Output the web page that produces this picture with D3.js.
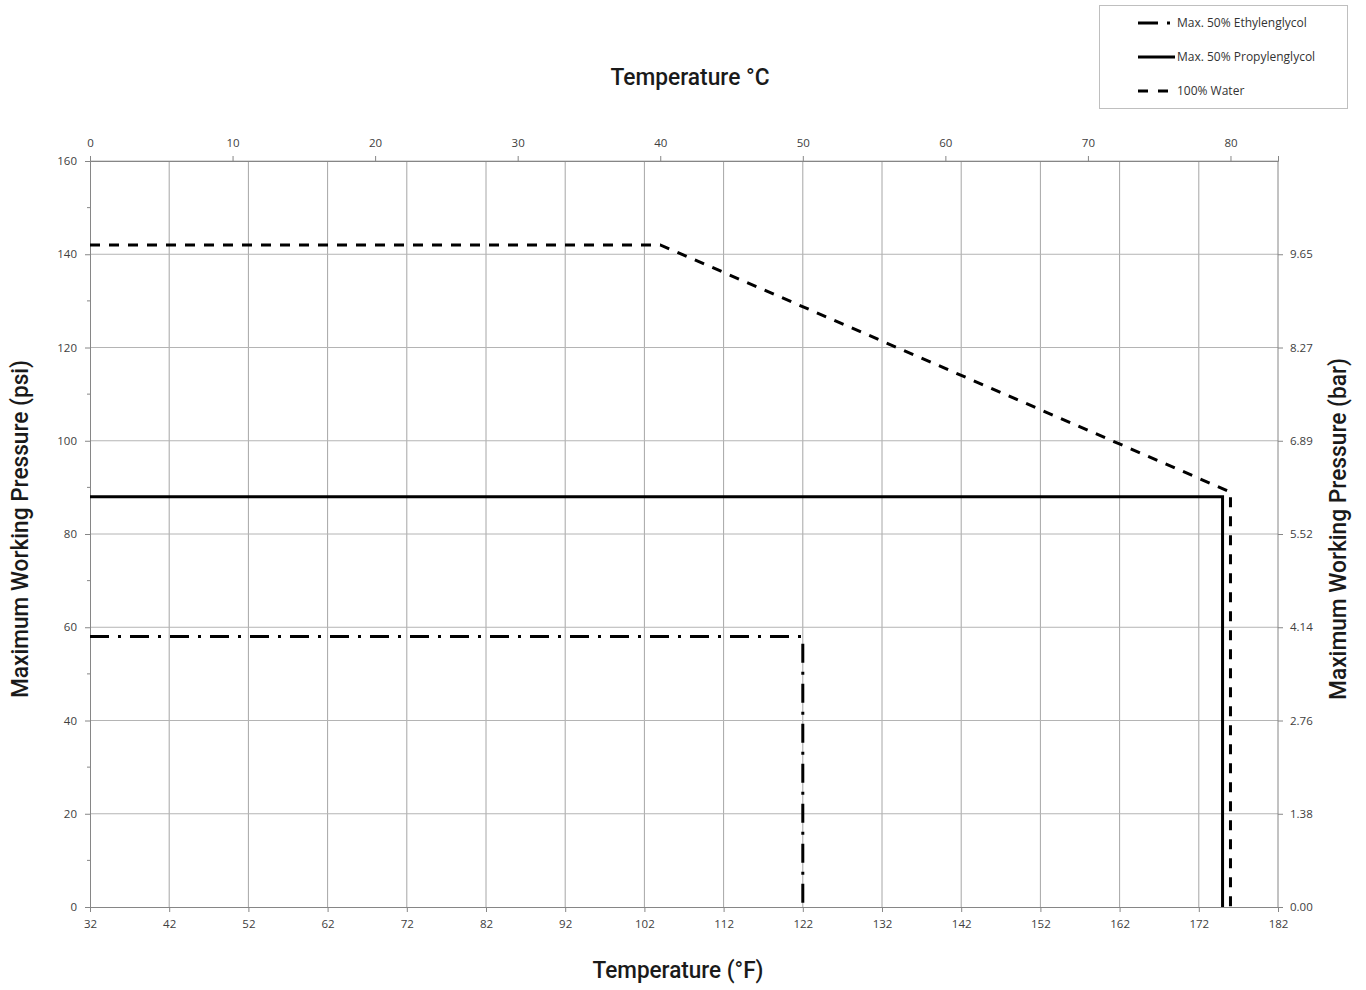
<!DOCTYPE html>
<html>
<head>
<meta charset="utf-8">
<script src="https://cdn.jsdelivr.net/npm/d3@7"></script>
<style>
  body { margin: 0; background: #fff; }
  svg { display: block; }
  .tick text { font-family: "Open Sans", sans-serif; font-size: 11.5px; fill: #404040; }
  .title { font-family: Roboto, sans-serif; font-size: 24px; font-weight: 500; fill: #1a1a1a; }
  .legend text { font-family: "Open Sans", sans-serif; font-size: 12px; fill: #333; }
</style>
</head>
<body>
<svg id="chart" width="1366" height="990"></svg>
<script>
// temperatures in °F, pressures in psi
const waterF = [32, 104, 176, 176];
const waterPsi = [142, 142, 89, 0];
const propF = [32, 175, 175];
const propPsi = [88, 88, 0];
const ethF = [32, 122, 122];
const ethPsi = [58, 58, 0];

const fTicks = [32, 42, 52, 62, 72, 82, 92, 102, 112, 122, 132, 142, 152, 162, 172, 182];
const cTicks = [0, 10, 20, 30, 40, 50, 60, 70, 80];
const psiTicks = [0, 20, 40, 60, 80, 100, 120, 140, 160];
const barTicks = [0, 20, 40, 60, 80, 100, 120, 140];
const barLabels = ["0.00", "1.38", "2.76", "4.14", "5.52", "6.89", "8.27", "9.65"];

const legendNames = ["Max. 50% Ethylenglycol", "Max. 50% Propylenglycol", "100% Water"];

const svg = d3.select('#chart');
const pLeft = 90, pRight = 1278, pTop = 161, pBottom = 907;

const x = d3.scaleLinear().domain([32, 182]).range([pLeft, pRight]);
const xC = d3.scaleLinear().domain([0, (182 - 32) * 5 / 9]).range([pLeft, pRight]);
const y = d3.scaleLinear().domain([0, 160]).range([pBottom, pTop]);

// gridlines
svg.append('g')
    .selectAll('line').data(fTicks.slice(1, -1)).enter().append('line')
    .attr('x1', d => x(d)).attr('x2', d => x(d))
    .attr('y1', pTop).attr('y2', pBottom)
    .attr('stroke', '#a6a6a6').attr('stroke-width', 1);
svg.append('g')
    .selectAll('line').data(psiTicks.slice(1)).enter().append('line')
    .attr('x1', pLeft).attr('x2', pRight)
    .attr('y1', d => y(d)).attr('y2', d => y(d))
    .attr('stroke', '#b4b4b4').attr('stroke-width', 1);

const styleAxis = (g) => {
    g.select('.domain').attr('stroke', '#868686');
    g.selectAll('.tick line').attr('stroke', '#868686');
};

// bottom axis °F
svg.append('g')
    .attr('transform', `translate(0,${pBottom})`)
    .call(d3.axisBottom(x).tickValues(fTicks).tickSizeOuter(0).tickSize(5).tickPadding(8))
    .call(styleAxis);

// top axis °C
svg.append('g')
    .attr('transform', `translate(0,${pTop})`)
    .call(d3.axisTop(xC).tickValues(cTicks).tickSizeOuter(0).tickSize(5).tickPadding(9))
    .call(styleAxis);

// left minor ticks
svg.append('g')
    .selectAll('line').data(d3.range(10, 160, 20)).enter().append('line')
    .attr('x1', pLeft - 3).attr('x2', pLeft)
    .attr('y1', d => y(d)).attr('y2', d => y(d))
    .attr('stroke', '#868686');

// left axis psi
svg.append('g')
    .attr('transform', `translate(${pLeft},0)`)
    .call(d3.axisLeft(y).tickValues(psiTicks).tickSizeOuter(0).tickSize(5).tickPadding(8))
    .call(styleAxis);

// right axis bar
svg.append('g')
    .attr('transform', `translate(${pRight},0)`)
    .call(d3.axisRight(y).tickValues(barTicks).tickFormat((d, i) => barLabels[i]).tickSizeOuter(0).tickSize(5).tickPadding(7))
    .call(styleAxis)
    .call(g => g.select('.domain').attr('d', `M0,${pTop}V${pBottom}`));

// axis titles
svg.append('text').attr('class', 'title')
    .attr('x', 690).attr('y', 85).attr('text-anchor', 'middle')
    .attr('textLength', 159).attr('lengthAdjust', 'spacingAndGlyphs')
    .text('Temperature °C');
svg.append('text').attr('class', 'title')
    .attr('x', 678).attr('y', 978).attr('text-anchor', 'middle')
    .attr('textLength', 171).attr('lengthAdjust', 'spacingAndGlyphs')
    .text('Temperature (°F)');
svg.append('text').attr('class', 'title')
    .attr('transform', 'translate(28,529) rotate(-90)').attr('text-anchor', 'middle')
    .attr('textLength', 338).attr('lengthAdjust', 'spacingAndGlyphs')
    .text('Maximum Working Pressure (psi)');
svg.append('text').attr('class', 'title')
    .attr('transform', 'translate(1346,529) rotate(-90)').attr('text-anchor', 'middle')
    .attr('textLength', 342).attr('lengthAdjust', 'spacingAndGlyphs')
    .text('Maximum Working Pressure (bar)');

// series
const line = d3.line().x(d => x(d[0])).y(d => y(d[1]));
const series = [
    { f: ethF, p: ethPsi, dash: '19,9,3,9' },
    { f: propF, p: propPsi, dash: null },
    { f: waterF, p: waterPsi, dash: '10,9' }
];
series.forEach(s => {
    svg.append('path')
        .datum(d3.zip(s.f, s.p))
        .attr('d', line)
        .attr('fill', 'none')
        .attr('stroke', '#000')
        .attr('stroke-width', 3)
        .attr('stroke-dasharray', s.dash);
});

// legend
const legend = svg.append('g').attr('class', 'legend');
legend.append('rect')
    .attr('x', 1099.5).attr('y', 5.5).attr('width', 248).attr('height', 103)
    .attr('fill', '#fff').attr('stroke', '#bfbfbf');
const legendDash = ['20,9,3,100', null, '10,10'];
legendNames.forEach((name, i) => {
    const ly = 23 + i * 34;
    legend.append('line')
        .attr('x1', 1138).attr('x2', 1175).attr('y1', ly).attr('y2', ly)
        .attr('stroke', '#000').attr('stroke-width', 3)
        .attr('stroke-dasharray', legendDash[i]);
    legend.append('text')
        .attr('x', 1177).attr('y', ly + 4)
        .text(name);
});
</script>
</body>
</html>
